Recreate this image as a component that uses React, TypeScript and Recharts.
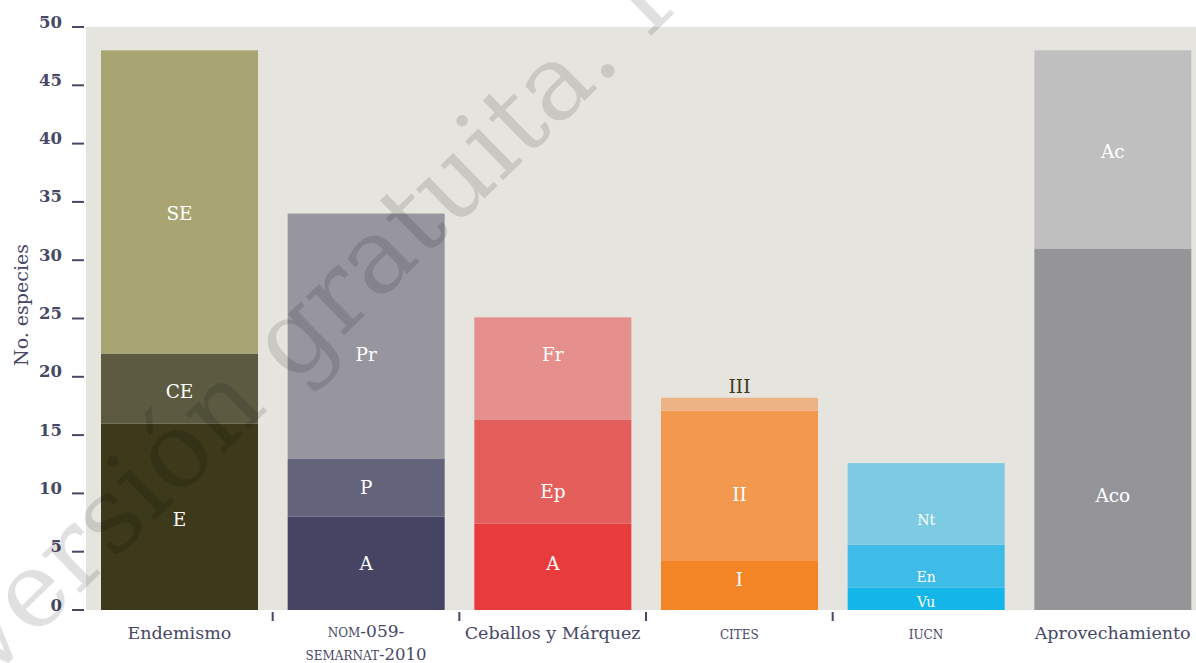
import React from 'react'
import { BarChart, Bar, XAxis, YAxis, CartesianGrid } from 'recharts'

// categories and stacked segment values (No. especies), bottom segment first
const categories = ['Endemismo', 'NOM-059-SEMARNAT-2010', 'Ceballos y Márquez', 'CITES', 'IUCN', 'Aprovechamiento']
const seg1 = [16, 8, 7.4, 4.2, 1.9, 31]
const seg2 = [6, 5, 8.9, 12.9, 3.7, 17]
const seg3 = [26, 21, 8.8, 1.1, 7.0, 0]

const seg1Names = ['E', 'A', 'A', 'I', 'Vu', 'Aco']
const seg2Names = ['CE', 'P', 'Ep', 'II', 'En', 'Ac']
const seg3Names = ['SE', 'Pr', 'Fr', 'III', 'Nt', '']

const yTicks = [0, 5, 10, 15, 20, 25, 30, 35, 40, 45, 50]

// styling
const seg1Colors = ['#3c3a1a', '#454563', '#e83c3c', '#f48527', '#14b5e9', '#959599']
const seg2Colors = ['#5c5a41', '#63637b', '#e45f5c', '#f2994f', '#3ebce7', '#bfbfbf']
const seg3Colors = ['#a8a572', '#97969f', '#e5908c', '#edb385', '#7ccbe3', '#bfbfbf']
// where each segment label sits, in axis units
const label1At = [7.8, 4.0, 4.0, 2.6, 0.7, 9.8]
const label2At = [18.7, 10.5, 10.2, 9.9, 2.8, 39.3]
const label3At = [34.0, 21.9, 21.9, 19.2, 7.7, 0]

const segVals = [seg1, seg2, seg3]
const segNames = [seg1Names, seg2Names, seg3Names]
const segColors = [seg1Colors, seg2Colors, seg3Colors]
const labelAt = [label1At, label2At, label3At]

const FONT = '"DejaVu Serif", serif'
const INK = '#474766'
const PLOT_LEFT = 86
const PLOT_BOTTOM = 610
const PLOT_W = 1120
const BAND = PLOT_W / categories.length

const smallCaps = new Set(['CITES', 'IUCN'])
const twoLines: Record<string, string[]> = {
  'NOM-059-SEMARNAT-2010': ['nom-059-', 'semarnat-2010'],
}

const data = categories.map((name, i) => ({ name, s1: seg1[i], s2: seg2[i], s3: seg3[i] }))

const makeShape = (seg: number) => (props: any) => {
  const { x, y, width, height, index } = props
  const val = segVals[seg][index]
  if (!val) return <g />
  let start = 0
  for (let s = 0; s < seg; s++) start += segVals[s][index]
  const k = height / val
  const ly = y + height - (labelAt[seg][index] - start) * k
  const name = segNames[seg][index]
  const small = name === 'Nt' || name === 'En' || name === 'Vu'
  const dark = name === 'III'
  return (
    <g>
      <rect x={x} y={y} width={width} height={height} fill={segColors[seg][index]} />
      <text
        x={x + width / 2}
        y={ly}
        textAnchor="middle"
        dominantBaseline="central"
        fontFamily={FONT}
        fontSize={small ? 14 : 18.5}
        fill={dark ? '#3c3a1a' : '#ffffff'}
      >
        {name}
      </text>
    </g>
  )
}

const YTick = (props: any) => {
  const { y, payload } = props
  return (
    <g>
      <text x={62} y={y - 5} textAnchor="end" dominantBaseline="central" fontFamily={FONT} fontWeight="bold" fontSize={16.5} fill={INK}>
        {payload.value}
      </text>
      <line x1={72} x2={84} y1={y} y2={y} stroke={INK} strokeWidth={2} />
    </g>
  )
}

const XTick = (props: any) => {
  const { x, payload, index } = props
  const label: string = payload.value
  const sep = index < 4 ? (
    <line x1={PLOT_LEFT + BAND * (index + 1)} x2={PLOT_LEFT + BAND * (index + 1)} y1={PLOT_BOTTOM + 2} y2={PLOT_BOTTOM + 11} stroke={INK} strokeWidth={2} />
  ) : null
  if (twoLines[label]) {
    const [a, b] = twoLines[label]
    return (
      <g>
        {sep}
        <text x={x} y={PLOT_BOTTOM + 21} textAnchor="middle" dominantBaseline="central" fontFamily={FONT} fontSize={17} fill={INK} style={{ fontVariant: 'small-caps' }}>{a}</text>
        <text x={x} y={PLOT_BOTTOM + 44} textAnchor="middle" dominantBaseline="central" fontFamily={FONT} fontSize={16.5} fill={INK} style={{ fontVariant: 'small-caps' }}>{b}</text>
      </g>
    )
  }
  const sc = smallCaps.has(label)
  return (
    <g>
      {sep}
      <text
        x={x}
        y={PLOT_BOTTOM + 23}
        textAnchor="middle"
        dominantBaseline="central"
        fontFamily={FONT}
        fontSize={sc ? 17 : 17.5}
        fill={INK}
        style={sc ? { fontVariant: 'small-caps' } : undefined}
      >
        {sc ? label.toLowerCase() : label}
      </text>
    </g>
  )
}

export default function App() {
  return (
    <div style={{ position: 'absolute', left: 0, top: 0, width: 1196, height: 663, overflow: 'hidden', background: '#fff' }}>
      <BarChart width={1206} height={663} data={data} margin={{ top: 27, right: 0, bottom: 0, left: 0 }} barSize={157}>
        <CartesianGrid fill="#e5e4df" stroke="none" horizontal={false} vertical={false} />
        <XAxis dataKey="name" height={53} axisLine={false} tickLine={false} tick={<XTick />} interval={0} />
        <YAxis domain={[0, 50]} ticks={yTicks} width={PLOT_LEFT} axisLine={false} tickLine={false} tick={<YTick />} />
        <Bar dataKey="s1" stackId="a" isAnimationActive={false} shape={makeShape(0)} />
        <Bar dataKey="s2" stackId="a" isAnimationActive={false} shape={makeShape(1)} />
        <Bar dataKey="s3" stackId="a" isAnimationActive={false} shape={makeShape(2)} />
      </BarChart>
      <svg width={1196} height={663} style={{ position: 'absolute', left: 0, top: 0, pointerEvents: 'none' }}>
        <text x={21} y={305} transform="rotate(-90 21 305)" textAnchor="middle" dominantBaseline="central" fontFamily={FONT} fontSize={19} fill={INK}>
          No. especies
        </text>
        <text x={-10} y={681} transform="rotate(-44.3 -10 681)" fontFamily={FONT} fontSize={105} fill="#000" fillOpacity={0.12}>
          versión gratuita. P
        </text>
      </svg>
    </div>
  )
}
